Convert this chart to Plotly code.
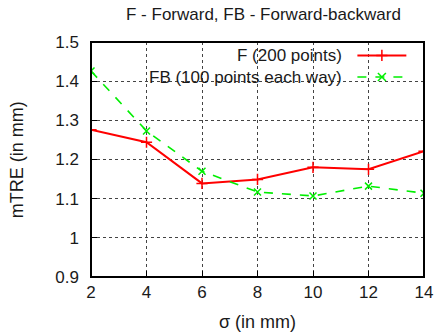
import plotly.graph_objects as go

# sigma values (mm) and mean target registration error (mm)
sigma = [2, 4, 6, 8, 10, 12, 14]
mtre_forward = [1.276, 1.244, 1.139, 1.149, 1.180, 1.175, 1.221]
mtre_fwd_bwd = [1.426, 1.273, 1.170, 1.117, 1.107, 1.132, 1.114]

series_names = ["F (200 points)", "FB (100 points each way)"]
series_colors = ["#ff0000", "#00ee00"]
y_ticks = [0.9, 1.0, 1.1, 1.2, 1.3, 1.4, 1.5]
y_tick_text = ["0.9", "1", "1.1", "1.2", "1.3", "1.4", "1.5"]
x_ticks = [2, 4, 6, 8, 10, 12, 14]

FONT = "Liberation Sans, Arial, sans-serif"
TEXT = "#1a1a1a"

fig = go.Figure()

fig.add_trace(go.Scatter(
    x=sigma, y=mtre_forward, mode="lines+markers", name=series_names[0],
    line=dict(color=series_colors[0], width=2),
    marker=dict(symbol="cross-thin", size=8, line=dict(color=series_colors[0], width=1.5)),
    showlegend=False,
))
fig.add_trace(go.Scatter(
    x=sigma, y=mtre_fwd_bwd, mode="lines+markers", name=series_names[1],
    line=dict(color=series_colors[1], width=1.6, dash="dash"),
    marker=dict(symbol="x-thin", size=7, line=dict(color=series_colors[1], width=1.5)),
    showlegend=False,
))

# key samples drawn on an overlay axis spanning the plot area (0..1)
key_rows = [0.943, 0.851]
key_dash = ["solid", "dash"]
key_sym = ["cross-thin", "x-thin"]
key_width = [2, 1.6]
annotations = []
for i in range(2):
    fig.add_trace(go.Scatter(
        x=[0.8, 0.947], y=[key_rows[i]] * 2, mode="lines", xaxis="x2", yaxis="y2",
        line=dict(color=series_colors[i], width=key_width[i], dash=key_dash[i]),
        showlegend=False, hoverinfo="skip",
    ))
    fig.add_trace(go.Scatter(
        x=[0.8735], y=[key_rows[i]], mode="markers", xaxis="x2", yaxis="y2",
        marker=dict(symbol=key_sym[i], size=8, line=dict(color=series_colors[i], width=1.5)),
        showlegend=False, hoverinfo="skip",
    ))
    annotations.append(dict(
        x=0.757, y=key_rows[i], xref="x2", yref="y2", text=series_names[i],
        showarrow=False, xanchor="right", yanchor="middle", borderpad=0,
        font=dict(family=FONT, size=17, color=TEXT),
    ))

axis_common = dict(
    showline=False, ticks="inside", ticklen=6, tickcolor="black", tickwidth=1.2,
    showgrid=True, gridcolor="#444", griddash="dot", gridwidth=1,
    zeroline=False, tickfont=dict(family=FONT, size=17, color=TEXT),
)

annotations += [
    dict(text="F - Forward, FB - Forward-backward", x=0.518, y=1 + (42 - 15) / 235,
         xref="paper", yref="paper", xanchor="center", yanchor="middle",
         showarrow=False, font=dict(family=FONT, size=17, color=TEXT)),
    dict(text="σ (in mm)", x=0.5, y=-(322 - 277) / 235, xref="paper", yref="paper",
         xanchor="center", yanchor="middle", showarrow=False,
         font=dict(family=FONT, size=18, color=TEXT)),
    dict(text="mTRE (in mm)", x=-(91 - 15) / 341, y=0.5, xref="paper", yref="paper",
         xanchor="center", yanchor="middle", textangle=-90, showarrow=False,
         font=dict(family=FONT, size=18, color=TEXT)),
]

fig.update_layout(
    width=443, height=334,
    margin=dict(l=91, r=10, t=42, b=57),
    paper_bgcolor="white", plot_bgcolor="white",
    xaxis=dict(range=[2, 14], tickvals=x_ticks, ticklabelstandoff=3, **axis_common),
    yaxis=dict(range=[0.9, 1.5], tickvals=y_ticks, ticktext=y_tick_text,
               ticklabelstandoff=11, **axis_common),
    xaxis2=dict(overlaying="x", range=[0, 1], visible=False),
    yaxis2=dict(overlaying="y", range=[0, 1], visible=False),
    annotations=annotations,
    shapes=[dict(type="rect", xref="paper", yref="paper", x0=0, x1=1, y0=0, y1=1,
                 line=dict(color="black", width=2), layer="above")],
)

fig.write_html("out.html")
